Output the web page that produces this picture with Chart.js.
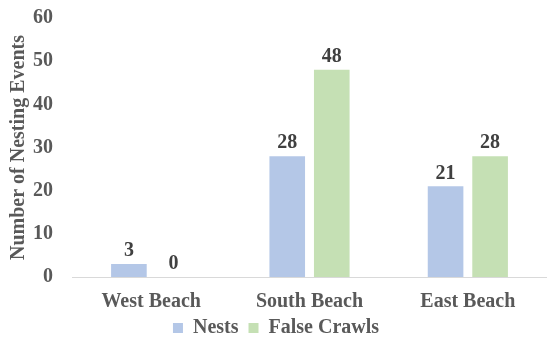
<!DOCTYPE html>
<html>
<head>
<meta charset="utf-8">
<script src="https://cdn.jsdelivr.net/npm/chart.js@4.4.1/dist/chart.umd.min.js"></script>
<style>
  html, body { margin: 0; padding: 0; background: #fff; }
  #wrap { width: 547px; height: 348px; }
</style>
</head>
<body>
<div id="wrap"><canvas id="chart" width="547" height="348"></canvas></div>
<script>
const beaches = ['West Beach', 'South Beach', 'East Beach'];
const nests = [3, 28, 21];
const falseCrawls = [0, 48, 28];
const yTicks = [0, 10, 20, 30, 40, 50, 60];

const textColor = '#595959';
const serif = '"Liberation Serif", "Times New Roman", serif';

// value labels above each bar
const valueLabels = {
    id: 'valueLabels',
    afterDatasetsDraw(chart) {
        const ctx = chart.ctx;
        ctx.save();
        ctx.font = 'bold 20px ' + serif;
        ctx.fillStyle = '#404040';
        ctx.textAlign = 'center';
        ctx.textBaseline = 'middle';
        chart.data.datasets.forEach((ds, i) => {
            chart.getDatasetMeta(i).data.forEach((bar, j) => {
                ctx.fillText(ds.data[j], bar.x, bar.y - 13);
            });
        });
        ctx.restore();
    }
};

new Chart(document.getElementById('chart').getContext('2d'), {
    type: 'bar',
    data: {
        labels: beaches,
        datasets: [
            { label: 'Nests', data: nests, backgroundColor: '#b4c7e7' },
            { label: 'False Crawls', data: falseCrawls, backgroundColor: '#c5e0b4' }
        ]
    },
    options: {
        responsive: false,
        animation: false,
        categoryPercentage: 0.5625,
        barPercentage: 0.8,
        layout: { padding: { top: 18, right: 0, left: 5, bottom: 0 } },
        scales: {
            x: {
                grid: { display: false, drawTicks: false },
                border: { display: true, color: '#d9d9d9', width: 1 },
                ticks: { color: textColor, font: { family: serif, size: 20, weight: 'bold' }, padding: 13 },
                afterFit: s => { s.height = 31; s.paddingLeft = 0; s.paddingRight = 0; }
            },
            y: {
                min: 0,
                max: 60,
                afterBuildTicks: axis => { axis.ticks = yTicks.map(v => ({ value: v })); },
                afterFit: s => { s.width = 67; s.paddingTop = 0; s.paddingBottom = 0; },
                grid: { display: false, drawTicks: false },
                border: { display: false },
                ticks: { color: textColor, font: { family: serif, size: 20, weight: 'bold' }, padding: 19 },
                title: {
                    display: true,
                    text: 'Number of Nesting Events',
                    color: textColor,
                    font: { family: serif, size: 20, weight: 'bold' },
                    padding: { top: 2, bottom: 2 }
                }
            }
        },
        plugins: {
            legend: {
                position: 'bottom',
                labels: {
                    color: textColor,
                    font: { family: serif, size: 20, weight: 'bold' },
                    boxWidth: 10,
                    boxHeight: 10,
                    padding: 10
                }
            },
            tooltip: { enabled: false }
        }
    },
    plugins: [valueLabels]
});
</script>
</body>
</html>
